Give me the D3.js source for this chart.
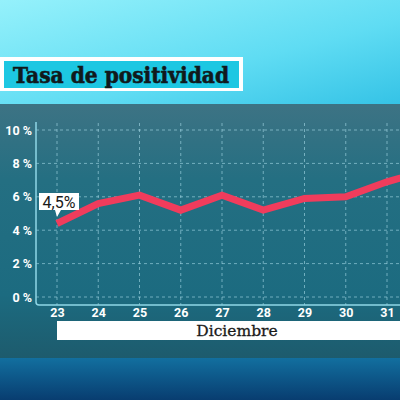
<!DOCTYPE html>
<html><head><meta charset="utf-8">
<script src="https://cdn.jsdelivr.net/npm/d3@7"></script>
<style>html,body{margin:0;padding:0;overflow:hidden;background:#000;}svg{display:block;}</style>
</head><body>
<script>
const days = ["23","24","25","26","27","28","29","30","31","1"];
const visibleDays = ["23","24","25","26","27","28","29","30","31"];
const values = [4.4, 5.6, 6.1, 5.2, 6.1, 5.2, 5.9, 6.0, 6.9, 7.6];
const yTicks = [0, 2, 4, 6, 8, 10];
const title = "Tasa de positividad";
const monthLabel = "Diciembre";
const callout = "4,5%";

const W = 400, H = 400;
const svg = d3.select("body").append("svg").attr("width", W).attr("height", H);
const defs = svg.append("defs");

const gTop = defs.append("linearGradient").attr("id","gTop").attr("x1","0").attr("y1","0").attr("x2","1").attr("y2","1");
gTop.append("stop").attr("offset","0").attr("stop-color","#95f1fb");
gTop.append("stop").attr("offset","0.6").attr("stop-color","#5fdcf3");
gTop.append("stop").attr("offset","1").attr("stop-color","#35c3e6");

const gPanel = defs.append("linearGradient").attr("id","gPanel").attr("x1","0").attr("y1","0").attr("x2","0").attr("y2","1");
gPanel.append("stop").attr("offset","0").attr("stop-color","#3d7384");
gPanel.append("stop").attr("offset","0.3").attr("stop-color","#246f82");
gPanel.append("stop").attr("offset","0.75").attr("stop-color","#1c6b80");
gPanel.append("stop").attr("offset","1").attr("stop-color","#1d5b6d");

const gBot = defs.append("linearGradient").attr("id","gBot").attr("x1","0").attr("y1","0").attr("x2","0").attr("y2","1");
gBot.append("stop").attr("offset","0").attr("stop-color","#126f9f");
gBot.append("stop").attr("offset","1").attr("stop-color","#083d70");

svg.append("rect").attr("x",0).attr("y",0).attr("width",W).attr("height",104).attr("fill","url(#gTop)");
svg.append("rect").attr("x",0).attr("y",104).attr("width",W).attr("height",254).attr("fill","url(#gPanel)");
svg.append("rect").attr("x",0).attr("y",358).attr("width",W).attr("height",42).attr("fill","url(#gBot)");

// title
svg.append("rect").attr("x",0).attr("y",57).attr("width",243).attr("height",34).attr("fill","#ffffff");
svg.append("rect").attr("x",4).attr("y",61).attr("width",235).attr("height",27).attr("fill","#1dc7e2");
svg.append("text").attr("x",13).attr("y",82.5).text(title)
  .attr("font-family","'DejaVu Serif', serif").attr("font-weight","900").attr("font-size",22)
  .attr("fill","#10191c").attr("stroke","#10191c").attr("stroke-width",0.6)
  .attr("textLength",216).attr("lengthAdjust","spacingAndGlyphs");

// scales
const x = d3.scalePoint().domain(days).range([57, 57 + 41.25*9]);
const y = d3.scaleLinear().domain([0,10]).range([297,130]);

const axisCol = "#8fd6e6";
const grid = svg.append("g");
grid.selectAll("line.h").data(yTicks).join("line")
  .attr("x1",36).attr("x2",W).attr("y1",d=>y(d)).attr("y2",d=>y(d))
  .attr("stroke","#a6dbe8").attr("stroke-opacity",0.6).attr("stroke-width",1).attr("stroke-dasharray","3,3");
grid.selectAll("line.v").data(visibleDays).join("line")
  .attr("x1",d=>x(d)).attr("x2",d=>x(d)).attr("y1",123).attr("y2",305)
  .attr("stroke","#a6dbe8").attr("stroke-opacity",0.6).attr("stroke-width",1).attr("stroke-dasharray","3,3");

// axis lines
svg.append("path").attr("d","M36,122 L36,302 Q36,305 39,305 L400,305")
  .attr("fill","none").attr("stroke",axisCol).attr("stroke-width",1.5);

// y labels
const yAxis = d3.axisLeft(y).tickValues(yTicks).tickSize(0).tickPadding(0).tickFormat(d=>d+" %");
const ya = svg.append("g").attr("transform","translate(32,0)").call(yAxis);
ya.select(".domain").remove();
ya.selectAll("text").attr("fill","#ffffff").attr("font-family","Roboto, sans-serif").attr("font-weight","bold").attr("font-size",12.5);

// x labels
const xAxis = d3.axisBottom(x).tickValues(visibleDays).tickSize(0).tickPadding(0);
const xa = svg.append("g").attr("transform","translate(0,308)").call(xAxis);
xa.select(".domain").remove();
xa.selectAll("text").attr("fill","#ffffff").attr("font-family","Roboto, sans-serif").attr("font-weight","bold").attr("font-size",12.5);

// month bar
svg.append("rect").attr("x",57).attr("y",321).attr("width",W-57).attr("height",19).attr("fill","#ffffff");
svg.append("text").attr("x",237).attr("y",336).attr("text-anchor","middle").text(monthLabel)
  .attr("font-family","'DejaVu Serif', serif").attr("font-size",15.5).attr("fill","#1a1a1a")
  .attr("stroke","#1a1a1a").attr("stroke-width",0.3);

// line
defs.append("clipPath").attr("id","clip").append("rect").attr("x",0).attr("y",104).attr("width",W).attr("height",254);
const line = d3.line().x(d=>x(d[0])).y(d=>y(d[1]));
svg.append("path").datum(days.map((d,i)=>[d,values[i]]))
  .attr("clip-path","url(#clip)")
  .attr("d",line).attr("fill","none").attr("stroke","#f03c5c").attr("stroke-width",7)
  .attr("stroke-linejoin","miter").attr("stroke-linecap","butt");

// callout
const cx = x(days[0]);
svg.append("path").attr("d",`M39,193 L79,193 L79,210 L${cx+4},210 L${cx},217 L${cx-2},210 L39,210 Z`).attr("fill","#ffffff");
svg.append("text").attr("x",59).attr("y",207.5).attr("text-anchor","middle").text(callout)
  .attr("font-family","Roboto, sans-serif").attr("font-size",16).attr("fill","#1a1a1a");
</script>
</body></html>
